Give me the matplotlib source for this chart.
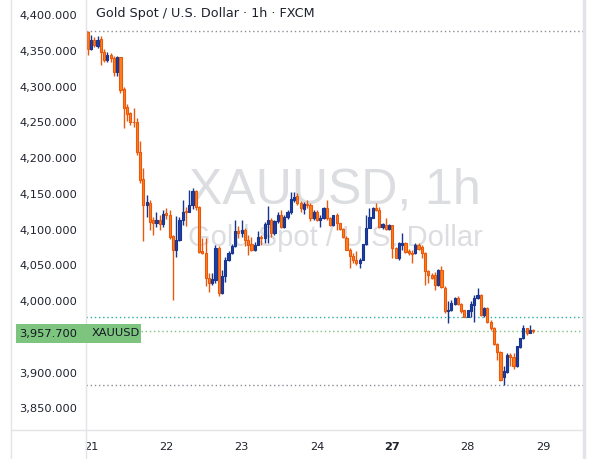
import matplotlib
matplotlib.use("Agg")
import matplotlib.pyplot as plt
from matplotlib.lines import Line2D
from matplotlib.patches import Rectangle
import numpy as np

# hourly candles, XAUUSD (FXCM)
opens = [4377, 4353, 4366, 4357, 4367, 4348, 4337, 4344, 4340, 4321,
         4341, 4297, 4272, 4263, 4251, 4251, 4208, 4171, 4135, 4137,
         4113, 4109, 4114, 4108, 4123, 4121, 4091, 4072, 4085, 4113,
         4126, 4125, 4134, 4154, 4131, 4070, 4067, 4032, 4025, 4030,
         4075, 4012, 4035, 4058, 4068, 4077, 4098, 4095, 4099, 4086,
         4080, 4071, 4079, 4090, 4088, 4108, 4113, 4096, 4112, 4121,
         4104, 4118, 4124, 4142, 4147, 4137, 4129, 4136, 4134, 4116,
         4125, 4114, 4117, 4130, 4116, 4107, 4120, 4109, 4101, 4089,
         4072, 4063, 4058, 4053, 4058, 4080, 4103, 4117, 4130, 4127,
         4104, 4107, 4101, 4106, 4074, 4060, 4079, 4081, 4070, 4067,
         4067, 4078, 4076, 4067, 4042, 4037, 4036, 4022, 4043, 4019,
         3986, 3987, 3996, 4004, 3996, 3987, 3978, 3986, 3994, 4004,
         4009, 3980, 3990, 3971, 3963, 3940, 3929, 3894, 3901, 3925,
         3922, 3909, 3936, 3948, 3962, 3956, 3960]
highs = [4378, 4373, 4370, 4371, 4371, 4353, 4348, 4347, 4343, 4343,
         4342, 4300, 4276, 4265, 4270, 4256, 4224, 4186, 4148, 4142,
         4118, 4124, 4121, 4128, 4130, 4127, 4093, 4119, 4118, 4142,
         4132, 4156, 4158, 4156, 4133, 4088, 4089, 4039, 4039, 4079,
         4077, 4044, 4062, 4070, 4080, 4113, 4105, 4114, 4103, 4092,
         4090, 4083, 4098, 4093, 4111, 4133, 4116, 4114, 4124, 4127,
         4120, 4127, 4152, 4152, 4151, 4140, 4138, 4141, 4137, 4127,
         4128, 4121, 4131, 4142, 4118, 4121, 4123, 4110, 4103, 4091,
         4075, 4068, 4070, 4061, 4080, 4120, 4130, 4132, 4137, 4131,
         4110, 4116, 4108, 4107, 4076, 4083, 4095, 4083, 4073, 4072,
         4082, 4082, 4078, 4069, 4043, 4040, 4041, 4045, 4049, 4021,
         4000, 4002, 4006, 4007, 3998, 3988, 3988, 4000, 4008, 4018,
         4010, 3992, 3992, 3973, 3964, 3942, 3930, 3909, 3928, 3927,
         3927, 3937, 3949, 3967, 3963, 3967, 3961]
lows = [4345, 4351, 4356, 4354, 4331, 4334, 4335, 4335, 4315, 4315,
        4291, 4242, 4252, 4246, 4244, 4204, 4165, 4084, 4118, 4100,
        4092, 4104, 4100, 4104, 4115, 4087, 4002, 4062, 4084, 4107,
        4105, 4124, 4129, 4128, 4067, 4066, 4021, 4013, 4022, 4025,
        4007, 4010, 4027, 4056, 4066, 4076, 4088, 4090, 4077, 4064,
        4070, 4070, 4078, 4078, 4081, 4081, 4090, 4093, 4109, 4103,
        4102, 4115, 4122, 4138, 4134, 4125, 4122, 4130, 4112, 4113,
        4112, 4104, 4115, 4114, 4105, 4105, 4100, 4100, 4088, 4071,
        4046, 4054, 4050, 4046, 4057, 4079, 4102, 4116, 4126, 4103,
        4101, 4100, 4100, 4060, 4060, 4057, 4072, 4067, 4064, 4053,
        4066, 4072, 4060, 4022, 4025, 4031, 4016, 4021, 4019, 3983,
        3969, 3986, 3994, 3994, 3984, 3978, 3978, 3978, 3971, 4003,
        3979, 3978, 3969, 3960, 3939, 3918, 3888, 3883, 3900, 3909,
        3905, 3908, 3934, 3947, 3952, 3955, 3955]
closes = [4353, 4365, 4358, 4366, 4348, 4337, 4344, 4340, 4321, 4341,
          4296, 4270, 4262, 4251, 4250, 4208, 4170, 4135, 4138, 4111,
          4109, 4114, 4108, 4122, 4121, 4090, 4072, 4086, 4114, 4125,
          4125, 4135, 4154, 4131, 4069, 4067, 4032, 4025, 4031, 4074,
          4011, 4035, 4058, 4068, 4077, 4098, 4095, 4099, 4086, 4079,
          4071, 4079, 4090, 4088, 4108, 4113, 4096, 4112, 4121, 4104,
          4118, 4125, 4143, 4146, 4137, 4130, 4136, 4134, 4116, 4125,
          4114, 4117, 4130, 4116, 4107, 4120, 4109, 4101, 4090, 4072,
          4063, 4057, 4053, 4058, 4080, 4103, 4118, 4130, 4128, 4104,
          4108, 4101, 4107, 4074, 4061, 4081, 4081, 4069, 4067, 4066,
          4078, 4073, 4067, 4042, 4037, 4033, 4022, 4043, 4020, 3986,
          3988, 3997, 4004, 3996, 3986, 3978, 3987, 3996, 4004, 4009,
          3980, 3990, 3971, 3963, 3940, 3929, 3890, 3902, 3925, 3922,
          3909, 3937, 3948, 3962, 3956, 3960, 3957.7]

day_labels = ["21", "22", "23", "24", "27", "28", "29"]
day_starts = [1, 24, 47, 70, 93, 116, 139]   # candle index where each day begins
last_price = 3957.7
range_high = 4378
range_low = 3883
ref_level = 3978
# 3,950 sits under the last-price badge, so it's left out
y_ticks = [3850, 3900, 4000, 4050, 4100, 4150, 4200, 4250, 4300, 4350, 4400]

W, H = 594, 459
fig = plt.figure(figsize=(W / 100, H / 100), dpi=100)
fig.patch.set_facecolor("white")

def fx(px):
    return px / W

def fy(py):
    return 1 - py / H

ax = fig.add_axes([fx(86), fy(430), (583 - 86) / W, 430 / H])

o = np.array(opens, dtype=float)
h = np.array(highs, dtype=float)
l = np.array(lows, dtype=float)
c = np.array(closes, dtype=float)
idx = np.arange(len(c))
up = c >= o

fill = np.where(up, "#1f3fa3", "#ff7f1f")
edge = np.where(up, "#17348f", "#e8590c")

ax.vlines(idx, l, h, colors=edge, linewidth=1.0, zorder=2)
bottom = np.minimum(o, c)
height = np.maximum(np.abs(c - o), 0.4)
ax.bar(idx, height, bottom=bottom, width=0.66, color=fill, edgecolor=edge,
       linewidth=0.8, zorder=3)

ax.set_xlim(-0.52, 151.2)
ax.set_ylim(3819.6, 4421.4)

# dotted reference lines
ax.axhline(range_high, color="#8a8d96", linestyle=(0, (1, 2)), linewidth=1, zorder=1)
ax.axhline(range_low, color="#8a8d96", linestyle=(0, (1, 2)), linewidth=1, zorder=1)
ax.axhline(ref_level, color="#26b0a0", linestyle=(0, (1, 2)), linewidth=1, zorder=1)
ax.axhline(last_price, xmin=(141 - 86) / (583 - 86), color="#7cc17f",
           linestyle=(0, (1, 2)), linewidth=1, zorder=1)

# watermark behind the candles
fig.text(fx(335), fy(190), "XAUUSD, 1h", fontsize=36, color="#dcdde0",
         family="Liberation Sans", ha="center", va="center", zorder=0.5)
fig.text(fx(335), fy(238), "Gold Spot / U.S. Dollar", fontsize=21, color="#dcdde0",
         family="Liberation Sans", ha="center", va="center", zorder=0.5)
ax.set_zorder(1)
ax.patch.set_alpha(0)

ax.set_yticks(y_ticks)
ax.set_yticklabels([f"{v:,.3f}" for v in y_ticks])
ax.set_xticks(day_starts)
ax.set_xticklabels(day_labels)
for lab in ax.get_xticklabels():
    if lab.get_text() == "27":
        lab.set_fontweight("bold")
ax.tick_params(axis="y", length=0, pad=6.5, labelsize=8.2, labelcolor="#1e222d")
ax.tick_params(axis="x", length=0, pad=8.5, labelsize=8.2, labelcolor="#1e222d")
for s in ax.spines.values():
    s.set_visible(False)

# pane borders
grey = "#e3e4e8"
fig.add_artist(Line2D([fx(11), fx(11)], [0, 1], color=grey, linewidth=1))
fig.add_artist(Line2D([fx(86), fx(86)], [0, 1], color=grey, linewidth=1))
fig.add_artist(Line2D([fx(583.5), fx(583.5)], [0, 1], color=grey, linewidth=2.5))
fig.add_artist(Line2D([fx(11), fx(583)], [fy(430), fy(430)], color=grey, linewidth=1))

fig.text(fx(96), fy(14), "Gold Spot / U.S. Dollar \u00b7 1h \u00b7 FXCM", fontsize=9.2,
         color="#1e222d", ha="left", va="center")

# last price badge
badge = Rectangle((fx(16), fy(343)), fx(141) - fx(16), fy(324) - fy(343),
                  transform=fig.transFigure, facecolor="#7dc47f", edgecolor="none", zorder=5)
fig.add_artist(badge)
fig.text(fx(77.5), fy(333.5), f"{last_price:,.3f}", fontsize=8.2, color="#131722",
         ha="right", va="center", zorder=6)
fig.text(fx(92), fy(333.5), "XAUUSD", fontsize=8.2, color="#131722",
         ha="left", va="center", zorder=6)

fig.savefig("out.png", dpi=100)
